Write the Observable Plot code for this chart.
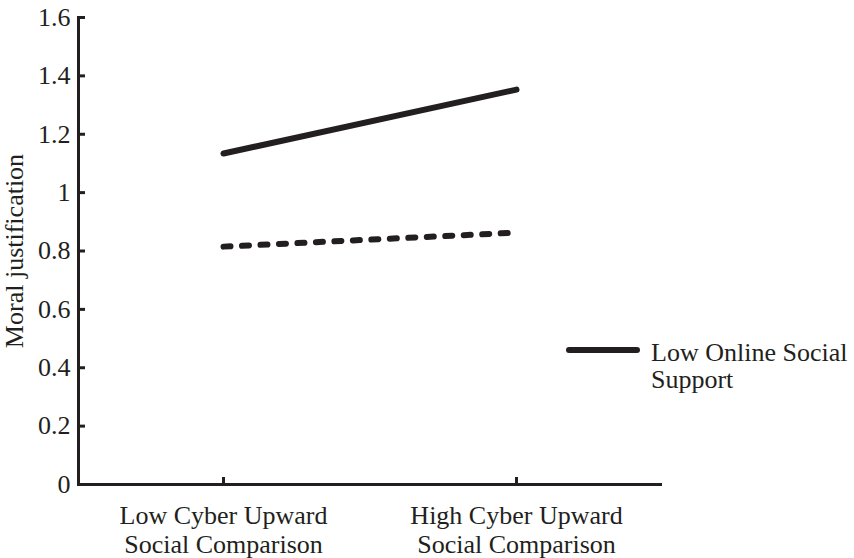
<!DOCTYPE html>
<html><head><meta charset="utf-8">
<script src="https://cdn.jsdelivr.net/npm/d3@7"></script>
<script src="https://cdn.jsdelivr.net/npm/@observablehq/plot@0.6"></script>
<style>
body{margin:0;background:#fff;}
#wrap{position:relative;width:854px;height:558px;font-family:"Liberation Serif","Times New Roman",serif;color:#231f20;}
#legend{position:absolute;left:565px;top:336px;display:flex;align-items:flex-start;}
#legend .txt{font-size:26px;line-height:27px;margin-left:10px;margin-top:3px;white-space:nowrap;}
</style></head><body><div id="wrap"></div>
<script>
const categories = ["Low Cyber Upward\nSocial Comparison", "High Cyber Upward\nSocial Comparison"];
const lowSupportValues = [1.134, 1.353];
const highSupportValues = [0.815, 0.863];
const yTicks = [0, 0.2, 0.4, 0.6, 0.8, 1, 1.2, 1.4, 1.6];
const yLabel = "Moral justification";
const legendLabel = "Low Online Social Support";

const ink = "#231f20";
const lowData = categories.map((c, i) => ({cat: c, v: lowSupportValues[i]}));
const highData = categories.map((c, i) => ({cat: c, v: highSupportValues[i]}));

const chart = Plot.plot({
  width: 854, height: 558,
  marginLeft: 78, marginRight: 194, marginTop: 17, marginBottom: 74,
  style: {fontFamily: "'Liberation Serif', 'Times New Roman', serif", fontSize: "26px", color: ink, background: "white"},
  x: {type: "point", domain: categories, padding: 0.49, label: null},
  y: {domain: [0, 1.6], label: null},
  marks: [
    Plot.frame({anchor: "left", strokeWidth: 3, stroke: ink}),
    Plot.frame({anchor: "bottom", strokeWidth: 3, stroke: ink}),
    Plot.axisY({ticks: yTicks, tickSize: -7, tickPadding: 15, strokeWidth: 3, tickFormat: d => String(d),
      label: yLabel, labelAnchor: "center", labelArrow: "none", labelOffset: 74}),
    Plot.axisX({tickSize: -7, tickPadding: 27, strokeWidth: 3, lineHeight: 1.08, label: null}),
    Plot.line(lowData, {x: "cat", y: "v", stroke: ink, strokeWidth: 6}),
    Plot.line(highData, {x: "cat", y: "v", stroke: ink, strokeWidth: 6, strokeDasharray: "7,11.5", strokeLinecap: "round"})
  ]
});
const wrap = document.getElementById("wrap");
wrap.appendChild(chart);
const leg = document.createElement("div");
leg.id = "legend";
const words = legendLabel.split(" ");
leg.innerHTML = `<svg width="76" height="30"><line x1="4" x2="72" y1="14" y2="14" stroke="${ink}" stroke-width="6" stroke-linecap="round"/></svg><div class="txt">${words.slice(0, 3).join(" ")}<br>${words.slice(3).join(" ")}</div>`;
wrap.appendChild(leg);
</script></body></html>
